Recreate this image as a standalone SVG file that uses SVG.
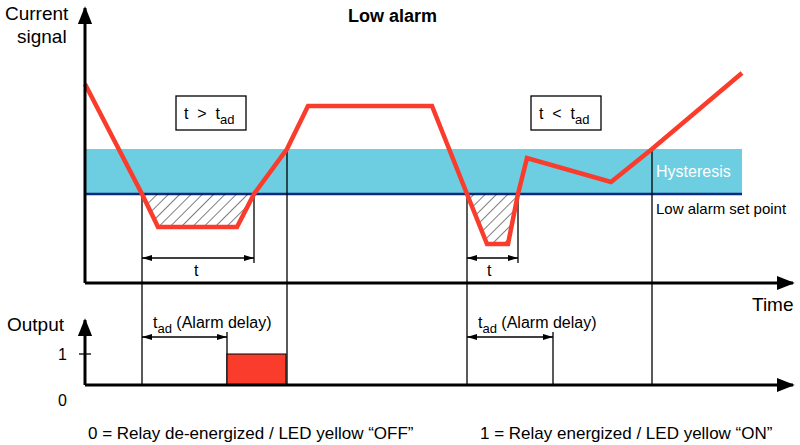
<svg xmlns="http://www.w3.org/2000/svg" width="800" height="445" viewBox="0 0 800 445">
<style>
text{font-family:"Liberation Sans",Arial,sans-serif;fill:#000}
.ax{stroke:#000;stroke-width:3;fill:none}
.th{stroke:#000;stroke-width:1.3;fill:none}
.dim{stroke:#000;stroke-width:1.3;fill:none;marker-start:url(#ds);marker-end:url(#de)}
.big{font-size:19px}
.lbl{font-size:16px}
</style>
<defs>
<marker id="ah" viewBox="0 0 10 10" refX="9" refY="5" markerWidth="6" markerHeight="6" orient="auto" markerUnits="strokeWidth"><path d="M0,1 L10,5 L0,9 z" fill="#000"/></marker>
<marker id="de" viewBox="0 0 10 6" refX="10" refY="3" markerWidth="10" markerHeight="6" orient="auto" markerUnits="userSpaceOnUse"><path d="M0,0 L10,3 L0,6 z" fill="#000"/></marker>
<marker id="ds" viewBox="0 0 10 6" refX="0" refY="3" markerWidth="10" markerHeight="6" orient="auto" markerUnits="userSpaceOnUse"><path d="M10,0 L0,3 L10,6 z" fill="#000"/></marker>
<pattern id="hatch" width="8" height="8" patternUnits="userSpaceOnUse" patternTransform="rotate(45)"><line x1="0" y1="0" x2="0" y2="8" stroke="#000" stroke-width="1"/></pattern>
</defs>
<rect width="800" height="445" fill="#fff"/>
<g id="band"><rect x="85" y="149" width="657" height="45" fill="#6dcde1"/>
<line x1="85" y1="194" x2="742" y2="194" stroke="#0c2a80" stroke-width="2.5"/>
<text x="656" y="177" font-size="16" style="fill:#fff">Hysteresis</text>
<text x="656" y="214" font-size="15">Low alarm set point</text></g>
<g id="hatches">
<polygon points="142,194 158,227 237,227 254,194" fill="url(#hatch)"/>
<polygon points="467,194 487,244 508,244 518,194" fill="url(#hatch)"/>
</g>
<g id="connectors">
<line class="th" x1="142" y1="194" x2="142" y2="385"/>
<line class="th" x1="254" y1="194" x2="254" y2="263"/>
<line class="th" x1="287" y1="149" x2="287" y2="385"/>
<line class="th" x1="467" y1="194" x2="467" y2="385"/>
<line class="th" x1="518" y1="194" x2="518" y2="263"/>
<line class="th" x1="652" y1="149" x2="652" y2="385"/>
<line class="dim" x1="142" y1="258" x2="254" y2="258"/>
<line class="dim" x1="467" y1="258" x2="518" y2="258"/>
<line class="th" x1="227" y1="332" x2="227" y2="385"/>
<line class="th" x1="553" y1="332" x2="553" y2="385"/>
<line class="dim" x1="142" y1="337" x2="227" y2="337"/>
<line class="dim" x1="467" y1="337" x2="553" y2="337"/>
</g>
<g id="output"><rect x="227" y="354" width="59" height="31" fill="#f93c2c" stroke="#000" stroke-width="1"/></g>
<g id="signal"><polyline points="85,84 142,194 158,227 237,227 254,194 287,149 308,106 432,106 467,194 487,244 508,244 518,194 527,158 611,182 652,149 742,73" fill="none" stroke="#f93c2c" stroke-width="4.5"/></g>
<g id="axes">
<path class="ax" d="M85,283 V8" marker-end="url(#ah)"/>
<path class="ax" d="M85,283 H793" marker-end="url(#ah)"/>
<path class="ax" d="M85,385 V320" marker-end="url(#ah)"/>
<path class="ax" d="M85,385 H793" marker-end="url(#ah)"/>
<line class="th" x1="79" y1="354" x2="91" y2="354"/>
</g>
<g id="box1"><rect x="176" y="96" width="70" height="34" fill="#fff" stroke="#000" stroke-width="1.3"/>
<text x="184" y="119" class="lbl" xml:space="preserve">t  &gt;  t<tspan font-size="13" dy="5">ad</tspan></text></g>
<g id="box2"><rect x="531" y="96" width="70" height="34" fill="#fff" stroke="#000" stroke-width="1.3"/>
<text x="539" y="119" class="lbl" xml:space="preserve">t  &lt;  t<tspan font-size="13" dy="5">ad</tspan></text></g>
<g id="labels">
<text x="348" y="22" font-weight="bold" font-size="18">Low alarm</text>
<text x="5" y="20" class="big">Current</text>
<text x="17" y="43" class="big">signal</text>
<text x="752" y="311" class="big">Time</text>
<text x="7" y="331" class="big">Output</text>
<text x="58" y="360" class="lbl">1</text>
<text x="58" y="406" class="lbl">0</text>
<text x="194" y="276" class="lbl">t</text>
<text x="487" y="276" class="lbl">t</text>
<text x="153" y="328" font-size="16">t<tspan font-size="13" dy="5">ad</tspan><tspan dy="-5"> (Alarm delay)</tspan></text>
<text x="478" y="328" font-size="16">t<tspan font-size="13" dy="5">ad</tspan><tspan dy="-5"> (Alarm delay)</tspan></text>
<text x="88" y="439" font-size="17">0 = Relay de-energized / LED yellow “OFF”</text>
<text x="480" y="439" font-size="17">1 = Relay energized / LED yellow “ON”</text>
</g>
</svg>
